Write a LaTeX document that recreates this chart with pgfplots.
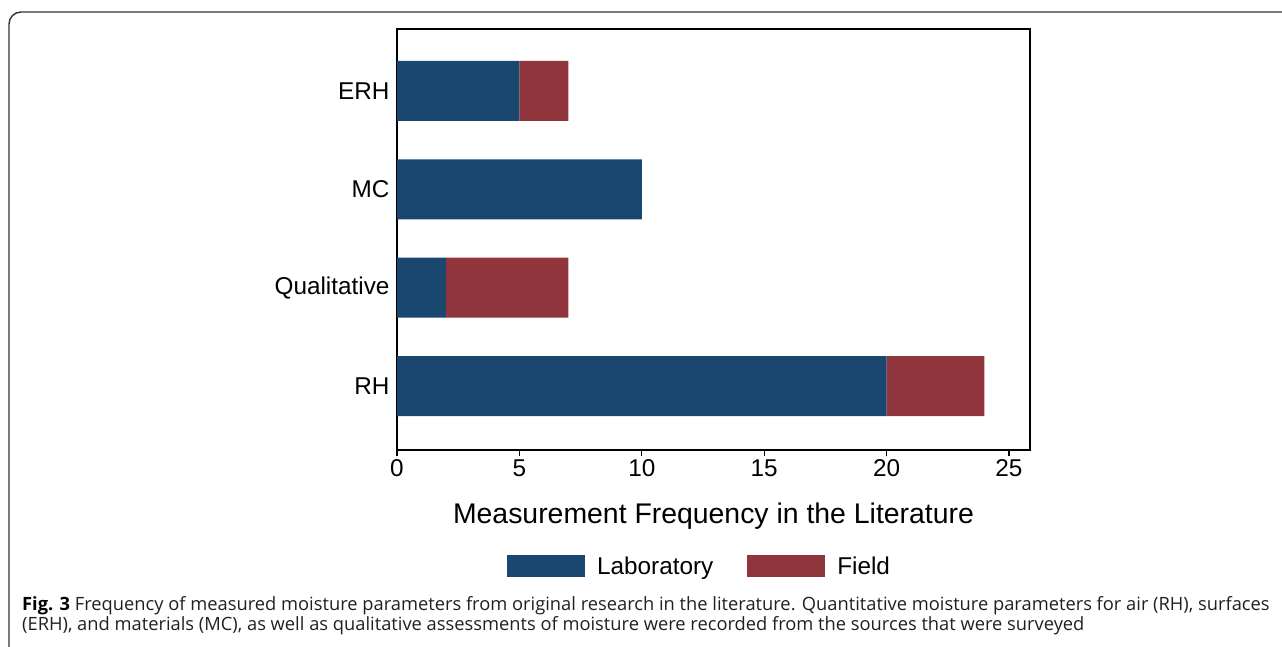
\documentclass[border=0pt]{standalone}
\usepackage{pgfplots}
\pgfplotsset{compat=1.18}
\usepackage{fontspec}
\setmainfont{Liberation Sans}
\newfontfamily\capfont{Open Sans}
\definecolor{stnavy}{HTML}{1A476F}
\definecolor{stmaroon}{HTML}{90353B}
\definecolor{captxt}{HTML}{231F20}
\begin{document}
\begin{tikzpicture}
\useasboundingbox (0bp,0bp) rectangle (1282bp,647bp);
\draw[line width=1.4bp, color=black!80] (9bp,-5bp) -- (9bp,623bp) arc[start angle=180,end angle=90,radius=12bp] -- (1290bp,635bp);
\begin{axis}[
  at={(397bp,197bp)}, anchor=south west, scale only axis,
  width=633bp, height=421bp,
  xbar stacked, bar width=60bp,
  xmin=0, xmax=25.86, ymin=0.35, ymax=4.63,
  ytick={1,2,3,4}, yticklabels={RH,Qualitative,MC,ERH},
  xtick={0,5,...,25},
  xtick pos=bottom, ytick pos=left,
  xtick align=outside, major tick length=6bp,
  ytick style={draw=none},
  xtick style={line width=1.3bp, black},
  axis line style={line width=1.4bp, black},
  /pgf/number format/assume math mode=true,
  tick label style={font=\fontsize{24.3bp}{28bp}\selectfont},
  yticklabel style={xshift=-4bp},
  xlabel={Measurement Frequency in the Literature},
  xlabel style={font=\fontsize{28.4bp}{32bp}\selectfont, at={(axis description cs:0.5,-0.156)}, anchor=center},
  legend columns=2,
  legend style={draw=none, fill=none, at={(axis description cs:0.478,-0.2755)}, anchor=center,
    font=\fontsize{24.3bp}{28bp}\selectfont,
    /tikz/every odd column/.append style={column sep=10bp},
    /tikz/every even column/.append style={column sep=32bp}},
  legend image code/.code={\fill[#1] (0bp,-11bp) rectangle (78bp,11bp);},
  legend cell align=left,
]
\addplot[fill=stnavy, draw=none] coordinates {(20,1) (2,2) (10,3) (5,4)};
\addplot[fill=stmaroon, draw=none] coordinates {(4,1) (5,2) (0,3) (2,4)};
\legend{Laboratory, Field}
\end{axis}
\node[anchor=base west, inner sep=0pt, text=captxt, font=\capfont\fontsize{18.3bp}{22bp}\selectfont] at (22bp,36.3bp) {{\color{black}\bfseries Fig. 3} Frequency of measured moisture parameters from original research in the literature. Quantitative moisture parameters for air (RH), surfaces};
\node[anchor=base west, inner sep=0pt, text=captxt, font=\capfont\fontsize{18.3bp}{22bp}\selectfont] at (22bp,16.3bp) {(ERH), and materials (MC), as well as qualitative assessments of moisture were recorded from the sources that were surveyed};
\end{tikzpicture}
\end{document}
